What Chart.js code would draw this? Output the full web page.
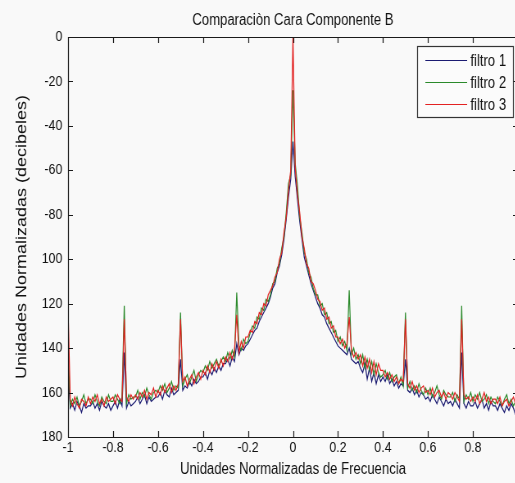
<!DOCTYPE html>
<html lang="es">
<head>
    <meta charset="UTF-8">
    <title>Comparaciòn Cara Componente B</title>
    <script src="https://cdn.jsdelivr.net/npm/chart.js"></script>
    <style>
        html, body {
            margin: 0;
            padding: 0;
            overflow: hidden;
            background: #f9f9f9;
        }
        /* the original figure was squeezed sideways, so the canvas is drawn
           wider and shown at 522px to get the same narrow lettering */
        #chart {
            position: absolute;
            left: 0;
            top: 0;
            width: 522px;
            height: 483px;
        }
    </style>
</head>
<body>
    <canvas id="chart" width="637" height="483" style="width:522px;height:483px"></canvas>
    <script>
        const chartTitle = 'Comparaciòn Cara Componente B';
        const xTitle = 'Unidades Normalizadas de Frecuencia';
        const yTitle = 'Unidades Normalizadas (decibeles)';
        const seriesNames = ['filtro 1', 'filtro 2', 'filtro 3'];
        const xTickLabels = ['-1', '-0.8', '-0.6', '-0.4', '-0.2', '0', '0.2', '0.4', '0.6', '0.8'];
        // top to bottom, as printed on the original axis
        const yTickLabels = ['0', '-20', '-40', '-60', '-80', '100', '120', '140', '160', '180'];

        const freq = [
            -1.00, -0.99, -0.98, -0.97, -0.96, -0.95, -0.94, -0.93, -0.92, -0.91,
            -0.90, -0.89, -0.88, -0.87, -0.86, -0.85, -0.84, -0.83, -0.82, -0.81,
            -0.80, -0.79, -0.78, -0.77, -0.76, -0.75, -0.74, -0.73, -0.72, -0.71,
            -0.70, -0.69, -0.68, -0.67, -0.66, -0.65, -0.64, -0.63, -0.62, -0.61,
            -0.60, -0.59, -0.58, -0.57, -0.56, -0.55, -0.54, -0.53, -0.52, -0.51,
            -0.50, -0.49, -0.48, -0.47, -0.46, -0.45, -0.44, -0.43, -0.42, -0.41,
            -0.40, -0.39, -0.38, -0.37, -0.36, -0.35, -0.34, -0.33, -0.32, -0.31,
            -0.30, -0.29, -0.28, -0.27, -0.26, -0.25, -0.24, -0.23, -0.22, -0.21,
            -0.20, -0.19, -0.18, -0.17, -0.16, -0.15, -0.14, -0.13, -0.12, -0.11,
            -0.10, -0.09, -0.08, -0.07, -0.06, -0.05, -0.04, -0.03, -0.02, -0.01,
            0.00, 0.01, 0.02, 0.03, 0.04, 0.05, 0.06, 0.07, 0.08, 0.09,
            0.10, 0.11, 0.12, 0.13, 0.14, 0.15, 0.16, 0.17, 0.18, 0.19,
            0.20, 0.21, 0.22, 0.23, 0.24, 0.25, 0.26, 0.27, 0.28, 0.29,
            0.30, 0.31, 0.32, 0.33, 0.34, 0.35, 0.36, 0.37, 0.38, 0.39,
            0.40, 0.41, 0.42, 0.43, 0.44, 0.45, 0.46, 0.47, 0.48, 0.49,
            0.50, 0.51, 0.52, 0.53, 0.54, 0.55, 0.56, 0.57, 0.58, 0.59,
            0.60, 0.61, 0.62, 0.63, 0.64, 0.65, 0.66, 0.67, 0.68, 0.69,
            0.70, 0.71, 0.72, 0.73, 0.74, 0.75, 0.76, 0.77, 0.78, 0.79,
            0.80, 0.81, 0.82, 0.83, 0.84, 0.85, 0.86, 0.87, 0.88, 0.89,
            0.90, 0.91, 0.92, 0.93, 0.94, 0.95, 0.96, 0.97, 0.98, 0.99
        ];

        const filtro1 = [
            -150, -167, -165, -168, -164, -166, -169, -165, -167, -166,
            -166, -164, -167, -165, -168, -164, -166, -167, -165, -168,
            -166, -164, -167, -163, -166, -142, -167, -164, -166, -165,
            -164, -162, -165, -163, -161, -165, -162, -164, -163, -162,
            -162, -160, -163, -159, -161, -162, -158, -161, -160, -159,
            -145, -159, -157, -158, -155, -157, -154, -156, -155, -153,
            -153, -151, -154, -150, -152, -149, -151, -148, -150, -147,
            -147, -145, -148, -144, -146, -138, -143, -140, -141, -139,
            -138, -136, -134, -132, -131, -128, -126, -124, -122, -120,
            -117, -113, -111, -106, -103, -98, -91, -82, -72, -64,
            -47, -63, -73, -83, -91, -99, -103, -107, -111, -114,
            -117, -120, -122, -125, -126, -129, -131, -133, -135, -137,
            -139, -140, -141, -142, -143, -140, -145, -146, -147, -146,
            -149, -151, -147, -154, -149, -155, -151, -156, -152, -155,
            -153, -155, -152, -156, -154, -157, -155, -158, -156, -157,
            -145, -159, -160, -158, -161, -159, -162, -160, -161, -163,
            -162, -164, -161, -163, -165, -162, -164, -166, -163, -165,
            -164, -166, -163, -165, -167, -142, -165, -167, -164, -166,
            -166, -164, -167, -165, -163, -167, -165, -168, -164, -166,
            -166, -168, -165, -167, -169, -166, -168, -165, -167, -170
        ];

        const filtro2 = [
            -140, -166, -163, -165, -162, -166, -164, -161, -165, -163,
            -163, -165, -161, -164, -166, -162, -164, -165, -161, -164,
            -164, -161, -163, -165, -162, -121, -165, -161, -163, -162,
            -162, -159, -163, -160, -162, -158, -161, -163, -160, -159,
            -160, -157, -159, -156, -160, -158, -155, -159, -157, -158,
            -124, -157, -154, -152, -156, -153, -150, -155, -152, -150,
            -151, -148, -150, -146, -149, -147, -145, -148, -146, -144,
            -146, -142, -145, -141, -144, -115, -139, -141, -136, -138,
            -137, -133, -130, -131, -126, -127, -122, -123, -118, -119,
            -116, -111, -110, -104, -102, -95, -90, -79, -66, -62,
            -24, -57, -67, -81, -88, -97, -100, -106, -108, -113,
            -116, -116, -121, -120, -125, -124, -129, -128, -133, -132,
            -137, -135, -139, -137, -141, -114, -143, -140, -145, -143,
            -147, -143, -149, -145, -150, -146, -152, -147, -151, -153,
            -152, -150, -154, -151, -155, -153, -152, -156, -153, -157,
            -124, -158, -155, -159, -157, -160, -156, -159, -161, -158,
            -161, -158, -162, -160, -157, -161, -163, -159, -161, -162,
            -162, -160, -164, -161, -163, -121, -164, -161, -163, -160,
            -164, -161, -163, -160, -164, -163, -161, -165, -162, -164,
            -165, -162, -164, -166, -163, -161, -165, -163, -166, -164
        ];

        const filtro3 = [
            -122, -163, -166, -162, -165, -167, -163, -164, -166, -162,
            -165, -162, -164, -161, -165, -163, -166, -162, -164, -163,
            -162, -165, -161, -163, -164, -127, -162, -164, -161, -163,
            -161, -163, -160, -162, -159, -163, -160, -161, -158, -162,
            -159, -161, -157, -160, -158, -156, -160, -157, -159, -156,
            -127, -155, -153, -157, -154, -152, -156, -153, -151, -154,
            -150, -152, -148, -151, -147, -150, -146, -149, -145, -148,
            -144, -146, -142, -145, -141, -125, -142, -137, -140, -135,
            -135, -132, -133, -128, -129, -124, -125, -120, -121, -116,
            -114, -112, -108, -106, -100, -97, -88, -81, -69, -60,
            0, -59, -71, -79, -90, -95, -102, -104, -110, -111,
            -114, -118, -119, -123, -122, -127, -126, -131, -130, -135,
            -135, -138, -136, -140, -138, -126, -141, -144, -142, -145,
            -143, -148, -144, -149, -145, -151, -146, -152, -147, -150,
            -150, -153, -151, -154, -152, -155, -153, -156, -154, -155,
            -127, -156, -158, -155, -159, -157, -160, -158, -157, -160,
            -159, -161, -158, -162, -160, -159, -162, -160, -163, -160,
            -161, -163, -160, -162, -164, -127, -161, -163, -162, -164,
            -162, -164, -161, -165, -163, -160, -164, -162, -165, -163,
            -163, -165, -162, -166, -164, -163, -166, -164, -162, -165
        ];

        const seriesColors = ['#1b1b72', '#2b8a2b', '#e32222'];
        const sans = "'Liberation Sans', Arial, sans-serif";

        function toPoints(values) {
            return freq.map((f, i) => ({ x: f, y: values[i] }));
        }

        // box, inward ticks (MATLAB style) and the legend inside the axes
        const matlabFrame = {
            id: 'matlabFrame',
            beforeDraw(chart) {
                const ctx = chart.ctx;
                ctx.save();
                ctx.fillStyle = '#f9f9f9';
                ctx.fillRect(0, 0, chart.width, chart.height);
                ctx.restore();
            },
            afterDatasetsDraw(chart) {
                const ctx = chart.ctx;
                const a = chart.chartArea;
                const xs = chart.scales.x;
                const ys = chart.scales.y;
                ctx.save();
                ctx.strokeStyle = '#1a1a1a';
                ctx.lineWidth = 1.2;
                ctx.beginPath();
                ctx.rect(Math.round(a.left) + 0.5, Math.round(a.top) + 0.5,
                    Math.round(a.right - a.left), Math.round(a.bottom - a.top));
                xs.ticks.forEach(t => {
                    const px = Math.round(xs.getPixelForValue(t.value)) + 0.5;
                    ctx.moveTo(px, a.bottom);
                    ctx.lineTo(px, a.bottom - 6);
                    ctx.moveTo(px, a.top);
                    ctx.lineTo(px, a.top + 6);
                });
                ys.ticks.forEach(t => {
                    const py = Math.round(ys.getPixelForValue(t.value)) + 0.5;
                    ctx.moveTo(a.left, py);
                    ctx.lineTo(a.left + 6, py);
                    ctx.moveTo(a.right, py);
                    ctx.lineTo(a.right - 6, py);
                });
                ctx.stroke();
                ctx.restore();
            },
            afterDraw(chart) {
                const ctx = chart.ctx;
                const bx = 509, by = 46, bw = 117, bh = 71;
                ctx.save();
                ctx.fillStyle = '#fbfbfb';
                ctx.fillRect(bx, by, bw, bh);
                ctx.strokeStyle = '#333';
                ctx.lineWidth = 1.2;
                ctx.strokeRect(bx + 0.5, by + 0.5, bw, bh);
                ctx.font = '16px ' + sans;
                ctx.textBaseline = 'middle';
                ctx.textAlign = 'left';
                chart.data.datasets.forEach((ds, i) => {
                    const ly = by + 14.5 + i * 22;
                    ctx.strokeStyle = ds.borderColor;
                    ctx.lineWidth = 1;
                    ctx.beginPath();
                    ctx.moveTo(bx + 10, ly);
                    ctx.lineTo(bx + 61, ly);
                    ctx.stroke();
                    ctx.fillStyle = '#111';
                    ctx.fillText(ds.label, bx + 65, ly + 1);
                });
                ctx.restore();
            }
        };

        new Chart(document.getElementById('chart'), {
            type: 'line',
            data: {
                datasets: [
                    { label: seriesNames[0], data: toPoints(filtro1), borderColor: seriesColors[0], order: 3 },
                    { label: seriesNames[1], data: toPoints(filtro2), borderColor: seriesColors[1], order: 2 },
                    { label: seriesNames[2], data: toPoints(filtro3), borderColor: seriesColors[2], order: 1 }
                ]
            },
            options: {
                responsive: false,
                animation: false,
                parsing: false,
                devicePixelRatio: 1,
                elements: {
                    line: { borderWidth: 1.2, tension: 0 },
                    point: { radius: 0 }
                },
                layout: { padding: { left: 0, right: 5, top: 0, bottom: 0 } },
                plugins: {
                    legend: { display: false },
                    tooltip: { enabled: false },
                    title: {
                        display: true,
                        fullSize: false,
                        text: chartTitle,
                        color: '#111',
                        font: { family: sans, size: 16, weight: 'normal' },
                        padding: { top: 11, bottom: 6.8 }
                    }
                },
                scales: {
                    x: {
                        type: 'linear',
                        min: -1,
                        max: 1,
                        afterFit: s => { s.height = 46; },
                        afterBuildTicks: s => {
                            s.ticks = xTickLabels.map(l => ({ value: parseFloat(l) }));
                        },
                        ticks: {
                            color: '#111',
                            padding: 2,
                            maxRotation: 0,
                            autoSkip: false,
                            font: { family: sans, size: 15 },
                            callback: (v, i) => xTickLabels[i]
                        },
                        grid: { display: false, drawTicks: false },
                        border: { display: false },
                        title: {
                            display: true,
                            text: xTitle,
                            color: '#111',
                            font: { family: sans, size: 16 },
                            padding: { top: 0, bottom: 3.4 }
                        }
                    },
                    y: {
                        type: 'linear',
                        min: -180,
                        max: 0,
                        afterFit: s => { s.width = 83; },
                        ticks: {
                            stepSize: 20,
                            color: '#111',
                            padding: 7,
                            font: { family: sans, size: 15 },
                            callback: v => yTickLabels[Math.round(-v / 20)]
                        },
                        grid: { display: false, drawTicks: false },
                        border: { display: false },
                        title: {
                            display: true,
                            text: yTitle,
                            color: '#111',
                            font: { family: sans, size: 18 },
                            padding: { top: 16, bottom: 0 }
                        }
                    }
                }
            },
            plugins: [matlabFrame]
        });
    </script>
</body>
</html>
